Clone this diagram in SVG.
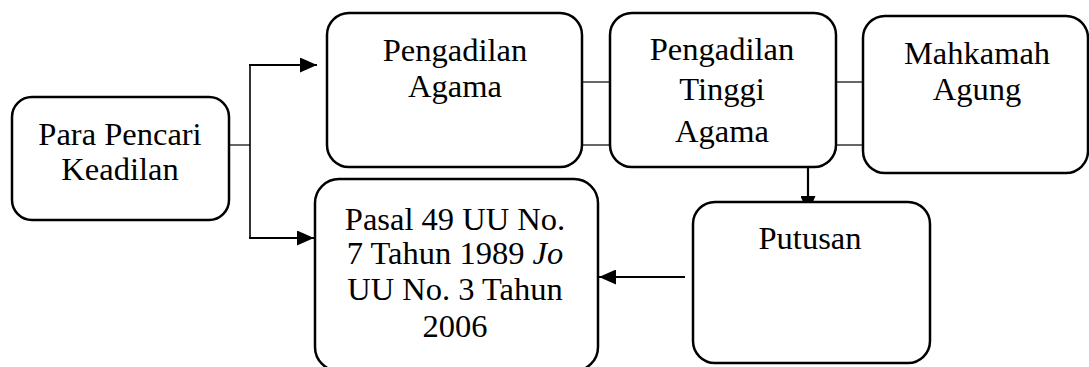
<svg xmlns="http://www.w3.org/2000/svg" width="1089" height="367" viewBox="0 0 1089 367">
  <style>
    .box { fill: #ffffff; stroke: #000000; stroke-width: 2.5; }
    .lbl { font-family: "Liberation Serif", "Times New Roman", serif; font-size: 32.5px; fill: #000000; text-anchor: middle; }
    .thin { stroke: #000000; stroke-width: 1.2; fill: none; }
    .arr { stroke: #000000; stroke-width: 2.2; fill: none; marker-end: url(#ah); }
  </style>
  <defs>
    <marker id="ah" viewBox="0 0 17 15" refX="17" refY="7.5" markerWidth="17" markerHeight="15" markerUnits="userSpaceOnUse" orient="auto">
      <path d="M0,0 L17,7.5 L0,15 Z" fill="#000000"/>
    </marker>
  </defs>

  <g id="connectors">
    <line class="thin" x1="229" y1="145" x2="250" y2="145"/>
    <line class="thin" x1="250" y1="65" x2="250" y2="238" style="stroke-width:1.6"/>
    <line class="arr" x1="249" y1="65" x2="317" y2="65"/>
    <line class="arr" x1="249" y1="238" x2="314" y2="238"/>
    <line class="thin" x1="582" y1="82" x2="610" y2="82"/>
    <line class="thin" x1="582" y1="145" x2="610" y2="145"/>
    <line class="thin" x1="836" y1="82" x2="863" y2="82"/>
    <line class="thin" x1="836" y1="145" x2="863" y2="145"/>
    <line class="arr" x1="808" y1="167" x2="808" y2="213"/>
    <line class="arr" x1="685" y1="277" x2="599" y2="277"/>
  </g>

  <g id="para-pencari">
    <rect class="box" x="12" y="97" width="217" height="123" rx="20"/>
    <text class="lbl" x="120" y="145">Para Pencari</text>
    <text class="lbl" x="120" y="180">Keadilan</text>
  </g>

  <g id="pengadilan-agama">
    <rect class="box" x="327" y="13" width="255" height="154" rx="22"/>
    <text class="lbl" x="455" y="61">Pengadilan</text>
    <text class="lbl" x="455" y="97">Agama</text>
  </g>

  <g id="pengadilan-tinggi">
    <rect class="box" x="610" y="13" width="226" height="154" rx="22"/>
    <text class="lbl" x="722" y="60">Pengadilan</text>
    <text class="lbl" x="722" y="100">Tinggi</text>
    <text class="lbl" x="722" y="142">Agama</text>
  </g>

  <g id="mahkamah-agung">
    <rect class="box" x="863" y="16" width="225" height="157" rx="22"/>
    <text class="lbl" x="977" y="64">Mahkamah</text>
    <text class="lbl" x="977" y="100">Agung</text>
  </g>

  <g id="putusan">
    <rect class="box" x="693" y="202" width="237" height="161" rx="22"/>
    <text class="lbl" x="810" y="249">Putusan</text>
  </g>

  <g id="pasal">
    <rect class="box" x="315" y="179" width="283" height="192" rx="24"/>
    <text class="lbl" x="455" y="230">Pasal 49 UU No.</text>
    <text class="lbl" x="455" y="264">7 Tahun 1989 <tspan font-style="italic">Jo</tspan></text>
    <text class="lbl" x="455" y="300">UU No. 3 Tahun</text>
    <text class="lbl" x="455" y="337">2006</text>
  </g>
</svg>
